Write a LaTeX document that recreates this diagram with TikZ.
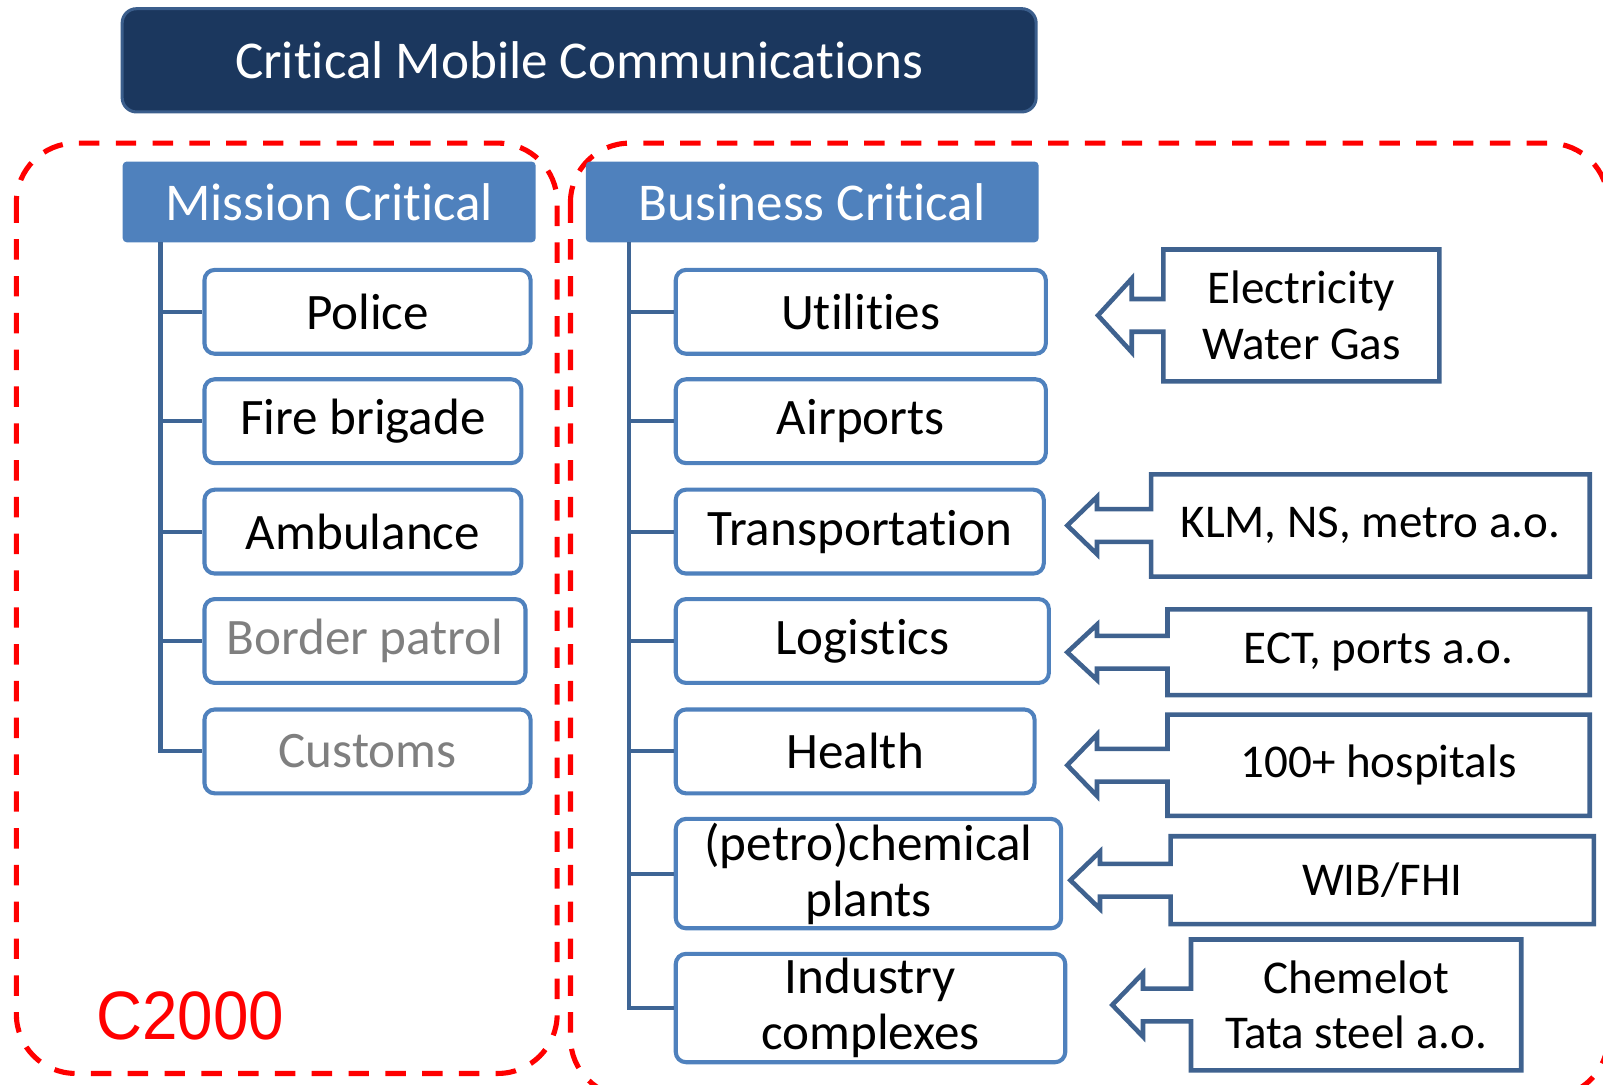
\documentclass[tikz,border=0pt]{standalone}
\usepackage{fontspec}
\usepackage{graphicx}
\setmainfont{Carlito}[Ligatures={NoCommon,NoRequired,NoContextual},Contextuals=NoAlternate]
\newfontfamily\arialfont{Liberation Sans}
\usetikzlibrary{calc}
\definecolor{navy}{HTML}{1B375E}
\definecolor{navyedge}{HTML}{3B5E8C}
\definecolor{hdrblue}{HTML}{4F81BD}
\definecolor{boxedge}{HTML}{4F81BD}
\definecolor{treeline}{HTML}{3E6595}
\definecolor{calloutedge}{HTML}{3F628F}
\definecolor{graytext}{HTML}{7F7F7F}
\tikzset{
 titlebox/.style={fill=navy, draw=navyedge, line width=3pt, rounded corners=14pt, text=white, inner sep=0pt, font=\fontsize{52}{60}\selectfont},
 header/.style={fill=hdrblue, rounded corners=4pt, text=white, inner sep=0pt, font=\fontsize{52}{60}\selectfont},
 item/.style={draw=boxedge, line width=4pt, rounded corners=10pt, fill=white, inner sep=0pt, minimum height=82pt, font=\fontsize{50}{55}\selectfont, align=center},
 tree/.style={draw=treeline, line width=4pt},
 zone/.style={draw=red, line width=5pt, dash pattern=on 20pt off 16pt, rounded corners=58pt},
 callout/.style={draw=calloutedge, line width=4.5pt, fill=white},
 callouttext/.style={font=\fontsize{46}{54}\selectfont, align=center, inner sep=0pt},
}
\def\shafthalf{16}
% #1 name, #2 left, #3 top, #4 right, #5 bottom, #6 tip x, #7 head base x, #8 head half, #9 text
\newcommand\mkcallout[9]{%
 \draw[callout] (#2,#3) -- (#4,#3) -- (#4,#5) -- (#2,#5)
   -- (#2,{(#3+#5)/2+\shafthalf}) -- (#7,{(#3+#5)/2+\shafthalf}) -- (#7,{(#3+#5)/2+#8})
   -- (#6,{(#3+#5)/2}) -- (#7,{(#3+#5)/2-#8}) -- (#7,{(#3+#5)/2-\shafthalf})
   -- (#2,{(#3+#5)/2-\shafthalf}) -- cycle;
 \node[callouttext] (#1) at ({(#2+#4)/2},{(#3+#5)/2}) {#9};
}
\begin{document}
\begin{tikzpicture}[x=1pt,y=-1pt]
\useasboundingbox (0,0) rectangle (1568,1061);
\clip (0,0) rectangle (1568,1061);

% red zones
\draw[zone] (16,140) rectangle (545,1050);
\draw[zone] (558,140) rectangle (1573,1073);

% title
\node[titlebox, minimum width=894pt, minimum height=101pt] (title) at (566.5,59) {Critical Mobile Communications};

% headers
\node[header, minimum width=404pt, minimum height=79pt] (mc) at (322,197.5) {Mission Critical};
\node[header, minimum width=443pt, minimum height=79pt] (bc) at (794.5,197.5) {Business Critical};

% left items
\node[item, minimum width=319pt] (police) at (359.5,305) {Police};
\node[item, minimum width=310pt] (fire) at (355,412) {Fire brigade};
\node[item, minimum width=310pt] (amb) at (355,520) {Ambulance};
\node[item, minimum width=314pt, text=graytext] (border) at (357,627) {Border patrol};
\node[item, minimum width=319pt, text=graytext] (customs) at (359.5,735) {Customs};

% right items
\node[item, minimum width=362pt] (util) at (842,305) {Utilities};
\node[item, minimum width=362pt] (air) at (842,412) {Airports};
\node[item, minimum width=360pt] (trans) at (841,520) {Transportation};
\node[item, minimum width=365pt] (logi) at (843.5,627) {Logistics};
\node[item, minimum width=351pt] (health) at (836.5,735) {Health};
\node[item, minimum width=377pt, minimum height=107pt] (petro) at (849.5,854.5) {(petro)chemical\\plants};
\node[item, minimum width=381pt, minimum height=106pt] (indus) at (851.5,986) {Industry\\complexes};

% tree connectors
\coordinate (lt) at (157,237);
\coordinate (rt) at (615,237);
\foreach \n in {police,fire,amb,border,customs} \draw[tree] (lt) |- (\n.west);
\foreach \n in {util,air,trans,logi,health,petro,indus} \draw[tree] (rt) |- (\n.west);

% callouts
\mkcallout{elec}{1138}{244}{1408}{373}{1074}{1107}{36}{Electricity\\Water Gas}
\mkcallout{klm}{1126}{464}{1555}{564}{1044}{1073}{28}{KLM, NS, metro a.o.}
\mkcallout{ect}{1142}{596}{1555}{680}{1044}{1073}{27}{ECT, ports a.o.}
\mkcallout{hosp}{1142}{699}{1555}{798}{1044}{1073}{30}{100+ hospitals}
\mkcallout{wib}{1145}{818}{1559}{904}{1047}{1076}{28}{WIB/FHI}
\mkcallout{chem}{1165}{919}{1488}{1047}{1088}{1118}{31}{Chemelot\\Tata steel a.o.}

% C2000 label
\node[text=red, font=\arialfont\fontsize{67}{72}\selectfont, inner sep=0pt] (c2000) at (186,994) {\scalebox{0.93}[1]{C2000}};
\end{tikzpicture}
\end{document}
